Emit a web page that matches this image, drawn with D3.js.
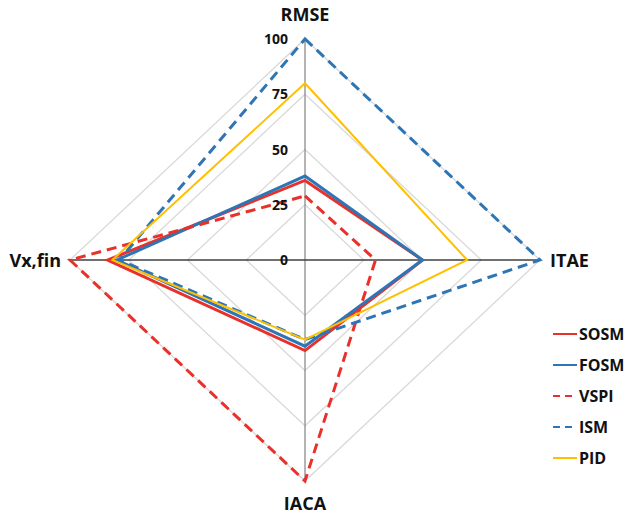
<!DOCTYPE html>
<html><head><meta charset="utf-8">
<script src="https://cdn.jsdelivr.net/npm/d3@7"></script>
<style>html,body{margin:0;padding:0;background:#fff;}svg{display:block;}</style>
</head><body>
<svg id="chart" width="636" height="516"></svg>
<script>
const axesNames = ["RMSE", "ITAE", "IACA", "Vx,fin"];
const ticks = [0, 25, 50, 75, 100];
const seriesNames = ["SOSM", "FOSM", "VSPI", "ISM", "PID"];
const sosm = [36, 50, 41, 84];
const fosm = [38, 50, 39, 80];
const vspi = [29, 30, 100, 100];
const ism  = [100, 100, 36, 79];
const pid  = [80, 69, 36, 82];

const seriesValues = [sosm, fosm, vspi, ism, pid];
const colors = ["#E8312B", "#2E75B6", "#E8312B", "#2E75B6", "#FFC000"];
const widths = [3, 3, 3, 3, 2];
const dashes = [null, null, "10,6", "10,6", null];

const svg = d3.select("#chart");
const cx = 305, cy = 260;
const sx = d3.scaleLinear().domain([0, 100]).range([0, 235]);
const sy = d3.scaleLinear().domain([0, 100]).range([0, 221]);
const angle = d3.scalePoint().domain(axesNames).range([0, 2 * Math.PI * 3 / 4]);
function pt(axis, v) {
  const a = angle(axis);
  return [cx + Math.sin(a) * sx(v), cy - Math.cos(a) * sy(v)];
}
const line = d3.line().curve(d3.curveLinearClosed);

// grid diamonds
svg.append("g").selectAll("path").data(ticks.filter(t => t > 0)).join("path")
  .attr("d", t => line(axesNames.map(a => pt(a, t))))
  .attr("fill", "none").attr("stroke", "#d9d9d9").attr("stroke-width", 1.3);

// axis spokes
svg.append("line").attr("x1", cx).attr("y1", cy - sy(100)).attr("x2", cx).attr("y2", cy + sy(100))
  .attr("stroke", "#8c8c8c").attr("stroke-width", 1.3);
svg.append("line").attr("x1", cx - sx(100)).attr("y1", cy).attr("x2", cx + sx(100)).attr("y2", cy)
  .attr("stroke", "#404040").attr("stroke-width", 1.3);

// series
svg.append("g").selectAll("path").data(seriesValues).join("path")
  .attr("d", vals => line(vals.map((v, i) => pt(axesNames[i], v))))
  .attr("fill", "none")
  .attr("stroke", (d, i) => colors[i])
  .attr("stroke-width", (d, i) => widths[i])
  .attr("stroke-dasharray", (d, i) => dashes[i])
  .attr("stroke-linejoin", "miter");

// tick labels
const font = "'Open Sans', 'Liberation Sans', sans-serif";
svg.append("g").selectAll("text").data(ticks).join("text")
  .attr("x", cx - 17).attr("y", t => cy - sy(t))
  .attr("dy", "0.36em").attr("text-anchor", "end")
  .attr("font-family", font).attr("font-weight", "bold").attr("font-size", 14)
  .attr("fill", "#111").text(t => t);

// axis labels
const labelPos = {
  "RMSE": {x: cx, y: 15, anchor: "middle"},
  "ITAE": {x: 550, y: 261, anchor: "start"},
  "IACA": {x: cx, y: 504, anchor: "middle"},
  "Vx,fin": {x: 61, y: 261, anchor: "end"}
};
svg.append("g").selectAll("text").data(axesNames).join("text")
  .attr("x", a => labelPos[a].x).attr("y", a => labelPos[a].y)
  .attr("dy", "0.36em").attr("text-anchor", a => labelPos[a].anchor)
  .attr("font-family", font).attr("font-weight", "bold").attr("font-size", 18)
  .attr("fill", "#111").text(a => a);

// legend
const lg = svg.append("g").selectAll("g").data(seriesNames).join("g")
  .attr("transform", (d, i) => `translate(553, ${334 + i * 31})`);
lg.append("line").attr("x1", 0).attr("x2", 24).attr("y1", 0).attr("y2", 0)
  .attr("stroke", (d, i) => colors[i]).attr("stroke-width", 2)
  .attr("stroke-dasharray", (d, i) => dashes[i] ? "7,5" : null);
lg.append("text").attr("x", 26).attr("y", 0).attr("dy", "0.36em")
  .attr("font-family", font).attr("font-weight", "bold").attr("font-size", 16)
  .attr("fill", "#111").text(d => d);
</script>
</body></html>
